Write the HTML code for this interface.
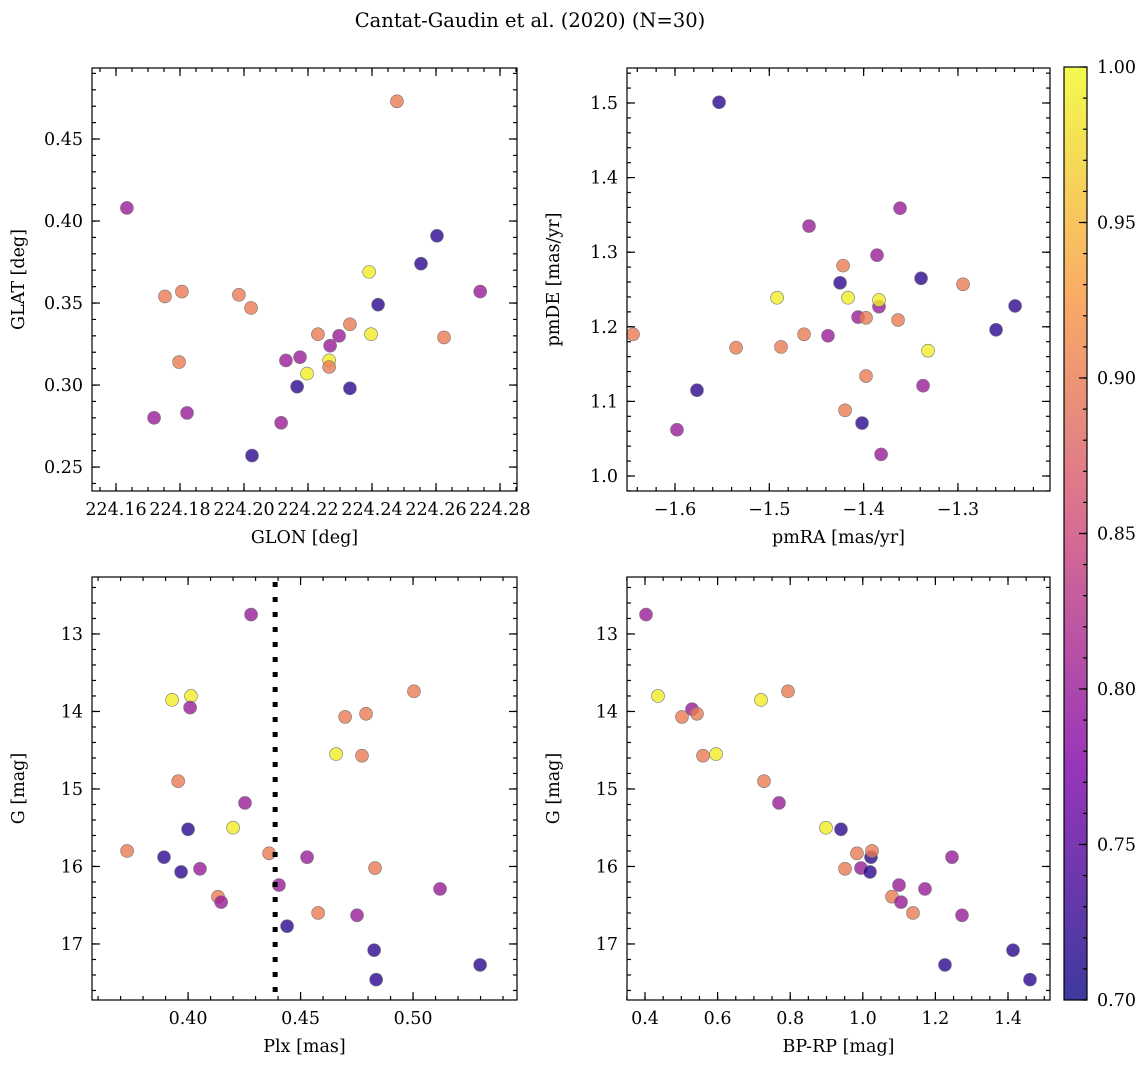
<!DOCTYPE html>
<html><head><meta charset="utf-8"><style>
html,body{margin:0;padding:0;background:#fff}
svg{display:block;font-family:"DejaVu Serif","Liberation Serif",serif}
</style></head><body>
<svg id="fig" width="1148" height="1067" viewBox="0 0 1148 1067" xmlns="http://www.w3.org/2000/svg">
<text x="530" y="27" text-anchor="middle" font-size="19.5">Cantat-Gaudin et al. (2020) (N=30)</text>
</svg>
<script>
// ---- data (B=0.72,P=0.80,S=0.90,Y=0.99)
const glon=[224.1634,224.1753,224.1806,224.1797,224.1719,224.1822,224.1984,224.2022,224.2025,224.2116,224.2131,224.2175,224.2166,224.2197,224.2231,224.2266,224.2266,224.2269,224.2297,224.2331,224.2331,224.2391,224.2397,224.2419,224.2478,224.2553,224.2603,224.2625,224.2738];
const glat=[0.408,0.354,0.357,0.314,0.280,0.283,0.355,0.347,0.257,0.277,0.315,0.317,0.299,0.307,0.331,0.315,0.311,0.324,0.330,0.337,0.298,0.369,0.331,0.349,0.473,0.374,0.391,0.329,0.357];
const probA=[0.80,0.90,0.90,0.90,0.80,0.80,0.90,0.90,0.72,0.80,0.80,0.80,0.72,0.99,0.90,0.99,0.90,0.80,0.80,0.90,0.72,0.99,0.99,0.72,0.90,0.72,0.72,0.90,0.80];
const pmra=[-1.5533,-1.6445,-1.5979,-1.5767,-1.5353,-1.4876,-1.4918,-1.4632,-1.4579,-1.4378,-1.4250,-1.4218,-1.4197,-1.4165,-1.4059,-1.4017,-1.3975,-1.3975,-1.3858,-1.3837,-1.3837,-1.3815,-1.3635,-1.3614,-1.3391,-1.3370,-1.3317,-1.2946,-1.2596,-1.2394];
const pmde=[1.501,1.190,1.062,1.115,1.172,1.173,1.239,1.190,1.335,1.188,1.259,1.282,1.088,1.239,1.213,1.071,1.212,1.134,1.296,1.227,1.236,1.029,1.209,1.359,1.265,1.121,1.168,1.257,1.196,1.228];
const probB=[0.72,0.90,0.80,0.72,0.90,0.90,0.99,0.90,0.80,0.80,0.72,0.90,0.90,0.99,0.80,0.72,0.90,0.90,0.80,0.80,0.99,0.80,0.90,0.80,0.72,0.80,0.99,0.90,0.72,0.72];
const plx=[0.3729,0.3893,0.3929,0.3956,0.3969,0.4013,0.4009,0.4000,0.4053,0.4133,0.4147,0.4200,0.4253,0.4280,0.4360,0.4404,0.4440,0.4529,0.4578,0.4658,0.4698,0.4751,0.4773,0.4791,0.4827,0.4831,0.4836,0.5004,0.5120,0.5298];
const gmagC=[15.80,15.88,13.85,14.90,16.07,13.80,13.95,15.52,16.03,16.39,16.46,15.50,15.18,12.75,15.83,16.24,16.77,15.88,16.60,14.55,14.07,16.63,14.57,14.03,17.08,16.02,17.46,13.74,16.29,17.27];
const probC=[0.90,0.72,0.99,0.90,0.72,0.99,0.80,0.72,0.80,0.90,0.80,0.99,0.80,0.80,0.90,0.80,0.72,0.80,0.90,0.99,0.90,0.80,0.90,0.90,0.72,0.90,0.72,0.90,0.80,0.72];
const plxLine=0.4387;
const bprp=[0.4028,0.4358,0.5019,0.5295,0.5432,0.5598,0.5956,0.7196,0.7278,0.7939,0.7691,0.8986,0.9399,0.9510,0.9840,0.9950,1.0226,1.0198,1.0253,1.0804,1.0997,1.1052,1.1383,1.1713,1.2264,1.2457,1.2733,1.4138,1.4606];
const gmagD=[12.75,13.80,14.07,13.97,14.03,14.57,14.55,13.85,14.90,13.74,15.18,15.50,15.52,16.03,15.83,16.02,15.88,16.07,15.80,16.39,16.24,16.46,16.60,16.29,17.27,15.88,16.63,17.08,17.46];
const probD=[0.80,0.99,0.90,0.80,0.90,0.90,0.99,0.99,0.90,0.90,0.80,0.99,0.72,0.90,0.90,0.80,0.72,0.72,0.90,0.90,0.80,0.80,0.90,0.80,0.72,0.80,0.80,0.72,0.72];
const cbTicks=["0.70","0.75","0.80","0.85","0.90","0.95","1.00"];

const NS="http://www.w3.org/2000/svg";
const svg=document.getElementById('fig');
function el(t,a,p){const e=document.createElementNS(NS,t);for(const k in a)e.setAttribute(k,a[k]);(p||svg).appendChild(e);return e;}
const stops=[[13,8,135],[126,3,168],[204,71,120],[248,149,64],[240,249,33]];
function plasma(t){t=Math.max(0,Math.min(1,t));const s=t*4,i=Math.min(3,Math.floor(s)),f=s-i;const a=stops[i],b=stops[i+1];
 return 'rgb('+a.map((v,k)=>Math.round(v+(b[k]-v)*f)).join(',')+')';}
function pc(p){return plasma((p-0.7)/0.3);}
const FS=17.5;

function panel(name,box,xr,yr,xMaj,xMin,yMaj,yMin,xFmt,yFmt,xlabel,ylabel,xs,ys,ps,invY){
 const [L,T,R,B]=box;
 const X=v=>L+(v-xr[0])/(xr[1]-xr[0])*(R-L);
 const Y=invY?(v=>T+(v-yr[0])/(yr[1]-yr[0])*(B-T)):(v=>B-(v-yr[0])/(yr[1]-yr[0])*(B-T));
 const g=el('g',{});
 
 
 for(let i=0;i<xs.length;i++){
  const c=el('circle',{cx:X(xs[i]),cy:Y(ys[i]),r:6.5,fill:pc(ps[i]),'fill-opacity':0.8,stroke:'#777','stroke-width':0.6},g);
  
  
 }
 const ax=el('g',{stroke:'#000','stroke-width':1.2},g);
 
 
 const mk=(arr,len,isX)=>{arr.forEach(v=>{
  if(isX){const x=X(v);if(x<L-0.5||x>R+0.5)return;el('line',{x1:x,x2:x,y1:B,y2:B-len},ax);el('line',{x1:x,x2:x,y1:T,y2:T+len},ax);}
  else{const y=Y(v);if(y<T-0.5||y>B+0.5)return;el('line',{x1:L,x2:L+len,y1:y,y2:y},ax);el('line',{x1:R,x2:R-len,y1:y,y2:y},ax);}
 });};
 mk(xMin,4,true);mk(xMaj,8,true);mk(yMin,4,false);mk(yMaj,8,false);
 el('rect',{x:L,y:T,width:R-L,height:B-T,fill:'none',stroke:'#000','stroke-width':1.2},g);
 xMaj.forEach(v=>{const x=X(v);if(x<L||x>R)return;const t=el('text',{x:x,y:B+24,'text-anchor':'middle','font-size':FS},g);t.textContent=xFmt(v);
  });
 yMaj.forEach(v=>{const y=Y(v);if(y<T||y>B)return;const t=el('text',{x:L-9,y:y+6,'text-anchor':'end','font-size':FS},g);t.textContent=yFmt(v);
  });
 const xl=el('text',{x:(L+R)/2,y:B+52,'text-anchor':'middle','font-size':FS},g);xl.textContent=xlabel;
 
 const yl=el('text',{x:0,y:0,'text-anchor':'middle','font-size':FS,transform:'translate('+(L-68)+','+((T+B)/2)+') rotate(-90)'},g);yl.textContent=ylabel;
 
 return {X,Y,g};
}
function rng(a,b,s){const r=[];for(let v=a;v<=b+s*1e-6;v+=s)r.push(+v.toFixed(6));return r;}
const minus=s=>s.replace('-','\u2212');

panel('panel-glon-glat',[92,68,517,491],[224.1525,224.2853],[0.2354,0.4933],rng(224.14,224.30,0.02),rng(224.14,224.30,0.005),rng(0.25,0.45,0.05),rng(0.20,0.50,0.01),v=>v.toFixed(2),v=>v.toFixed(2),'GLON [deg]','GLAT [deg]',glon,glat,probA,false);
panel('panel-pm',[627,68,1050,491],[-1.6509,-1.2024],[0.9799,1.5469],rng(-1.7,-1.1,0.1),rng(-1.7,-1.1,0.02),rng(1.0,1.5,0.1),rng(0.96,1.56,0.02),v=>minus(v.toFixed(1)),v=>v.toFixed(1),'pmRA [mas/yr]','pmDE [mas/yr]',pmra,pmde,probB,false);
const p3=panel('panel-plx-g',[92,577,517,1000],[0.3573,0.5462],[12.265,17.723],rng(0.35,0.55,0.05),rng(0.35,0.55,0.01),rng(12,18,1),rng(12,18,0.2),v=>v.toFixed(2),v=>v.toFixed(0),'Plx [mas]','G [mag]',plx,gmagC,probC,true);
const ln=el('line',{x1:p3.X(plxLine),x2:p3.X(plxLine),y1:582,y2:1000,stroke:'#000','stroke-width':5,'stroke-dasharray':'5 10'},p3.g);


panel('panel-cmd',[627,577,1050,1000],[0.3504,1.5157],[12.265,17.723],rng(0.2,1.6,0.2),rng(0.2,1.6,0.05),rng(12,18,1),rng(12,18,0.2),v=>v.toFixed(1),v=>v.toFixed(0),'BP-RP [mag]','G [mag]',bprp,gmagD,probD,true);

// colorbar
const cb=el('g',{});


const defs=el('defs',{},svg);
const grad=el('linearGradient',{id:'pg',x1:0,y1:1,x2:0,y2:0},defs);
for(let i=0;i<=20;i++)el('stop',{offset:(i/20),'stop-color':plasma(i/20),'stop-opacity':0.8},grad);
const cT=67,cB=1000,cL=1064,cR=1087;
el('rect',{x:cL,y:cT,width:cR-cL,height:cB-cT,fill:'url(#pg)',stroke:'#000','stroke-width':1.2},cb);
const CY=v=>cB-(v-0.7)/0.3*(cB-cT);
rng(0.70,1.00,0.01).forEach(v=>el('line',{x1:cR,x2:cR-4,y1:CY(v),y2:CY(v),stroke:'#000','stroke-width':1.2},cb));
cbTicks.forEach(s=>{const v=parseFloat(s);el('line',{x1:cR,x2:cR-8,y1:CY(v),y2:CY(v),stroke:'#000','stroke-width':1.2},cb);
 const t=el('text',{x:cR+10,y:CY(v)+6,'font-size':FS},cb);t.textContent=s;
 });
</script>
</body></html>
